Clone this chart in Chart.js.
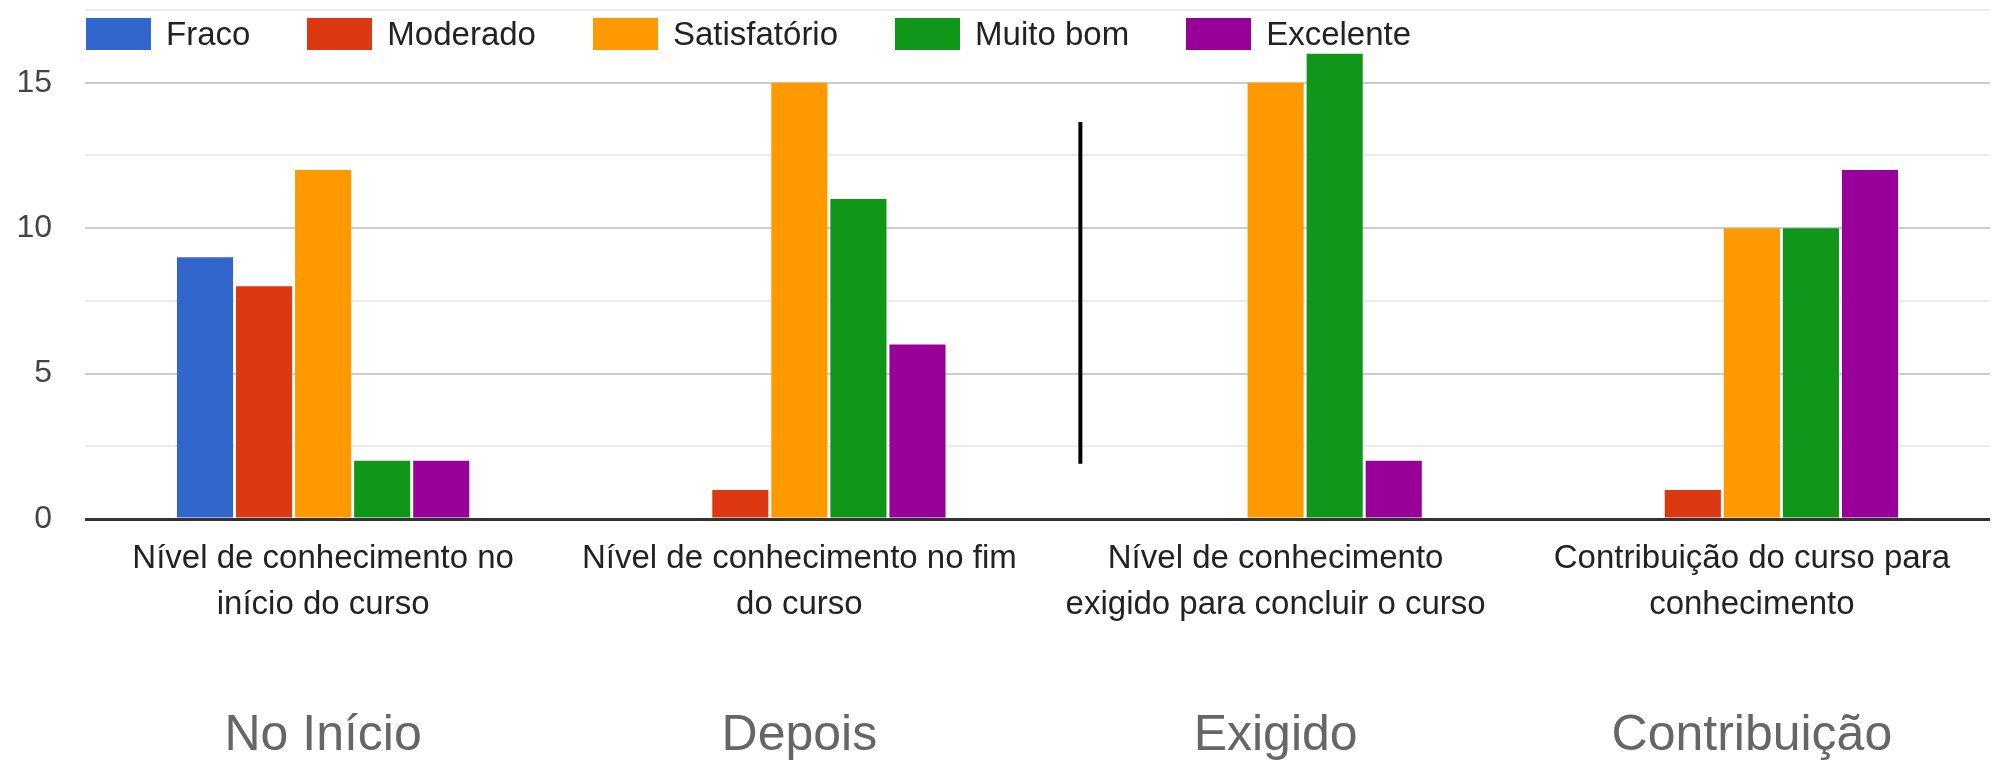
<!DOCTYPE html>
<html>
<head>
<meta charset="utf-8">
<script src="https://cdn.jsdelivr.net/npm/chart.js@4.4.1/dist/chart.umd.min.js"></script>
<style>
  body { margin: 0; background: #fff; }
  #wrap { position: relative; width: 1996px; height: 763px; }
  #legend {
    position: absolute; left: 86px; top: 15px;
    display: flex; align-items: center;
    font-family: "Liberation Sans", Arial, sans-serif; font-size: 33px; color: #222;
  }
  #legend .item { display: flex; align-items: center; margin-right: 57px; }
  #legend .box { width: 65px; height: 32px; margin-right: 15px; }
</style>
</head>
<body>
<div id="wrap">
  <canvas id="myChart"></canvas>
  <div id="legend"></div>
</div>
<script>
const categories = [
    ['Nível de conhecimento no', 'início do curso'],
    ['Nível de conhecimento no fim', 'do curso'],
    ['Nível de conhecimento', 'exigido para concluir o curso'],
    ['Contribuição do curso para', 'conhecimento']
];
const bottomLabels = ['No Início', 'Depois', 'Exigido', 'Contribuição'];
const seriesNames = ['Fraco', 'Moderado', 'Satisfatório', 'Muito bom', 'Excelente'];
const fraco = [9, 0, 0, 0];
const moderado = [8, 1, 0, 1];
const satisfatorio = [12, 15, 15, 10];
const muitoBom = [2, 11, 16, 10];
const excelente = [2, 6, 2, 12];
const yTicks = [0, 5, 10, 15];
// vertical marker between 2nd and 3rd group (x in category index, y in values)
const markerX = 1.59;
const markerY = [1.9, 13.65];

const colors = ['#3366cc', '#dc3912', '#ff9900', '#109618', '#990099'];
const values = [fraco, moderado, satisfatorio, muitoBom, excelente];
const font = '"Liberation Sans", Arial, sans-serif';

const ctx = document.getElementById('myChart').getContext('2d');

const markerLine = {
    id: 'markerLine',
    afterDatasetsDraw(chart) {
        const x = chart.scales.x.getPixelForValue(markerX);
        const y1 = chart.scales.y.getPixelForValue(markerY[0]);
        const y2 = chart.scales.y.getPixelForValue(markerY[1]);
        const c = chart.ctx;
        c.save();
        c.strokeStyle = '#000';
        c.lineWidth = 4;
        c.beginPath();
        c.moveTo(x, y1);
        c.lineTo(x, y2);
        c.stroke();
        c.restore();
    }
};

const chart = new Chart(ctx, {
    type: 'bar',
    data: {
        labels: categories,
        datasets: seriesNames.map((name, i) => ({
            label: name,
            data: values[i],
            backgroundColor: colors[i],
            barPercentage: 0.95,
            categoryPercentage: 0.62
        }))
    },
    options: {
        responsive: true,
        maintainAspectRatio: false,
        animation: false,
        layout: { padding: { left: 16, right: 6, top: 10, bottom: 0 } },
        plugins: {
            legend: { display: false },
            tooltip: { enabled: false }
        },
        scales: {
            x: {
                grid: { display: false, drawTicks: false },
                border: { display: false },
                afterFit(scale) { scale.height = 109; },
                ticks: {
                    autoSkip: false, maxRotation: 0, padding: 17,
                    color: '#222',
                    font: { family: font, size: 33, lineHeight: 1.394 }
                }
            },
            x2: {
                type: 'category',
                labels: bottomLabels,
                offset: true,
                weight: 1,
                grid: { display: false, drawTicks: false },
                border: { display: false },
                afterFit(scale) { scale.height = 135; },
                ticks: {
                    autoSkip: false, maxRotation: 0, padding: 83,
                    color: '#666',
                    font: { family: font, size: 50, lineHeight: 1 }
                }
            },
            y: {
                min: 0,
                max: 17.5,
                border: { display: false },
                afterFit(scale) { scale.paddingTop = 0; scale.width = 69; },
                grid: {
                    drawTicks: false,
                    lineWidth: c => c.tick && c.tick.value === 0 ? 3 : 2,
                    color: c => {
                        if (!c.tick) return '#ccc';
                        if (c.tick.value === 0) return '#333';
                        return yTicks.includes(c.tick.value) ? '#cccccc' : '#ebebeb';
                    }
                },
                ticks: {
                    stepSize: 2.5,
                    padding: 33,
                    color: '#444',
                    font: { family: font, size: 32 },
                    callback: v => yTicks.includes(v) ? v : ''
                }
            }
        }
    },
    plugins: [markerLine]
});

const legend = document.getElementById('legend');
chart.data.datasets.forEach(ds => {
    const item = document.createElement('div');
    item.className = 'item';
    const box = document.createElement('span');
    box.className = 'box';
    box.style.background = ds.backgroundColor;
    const txt = document.createElement('span');
    txt.textContent = ds.label;
    item.appendChild(box);
    item.appendChild(txt);
    legend.appendChild(item);
});
</script>
</body>
</html>
